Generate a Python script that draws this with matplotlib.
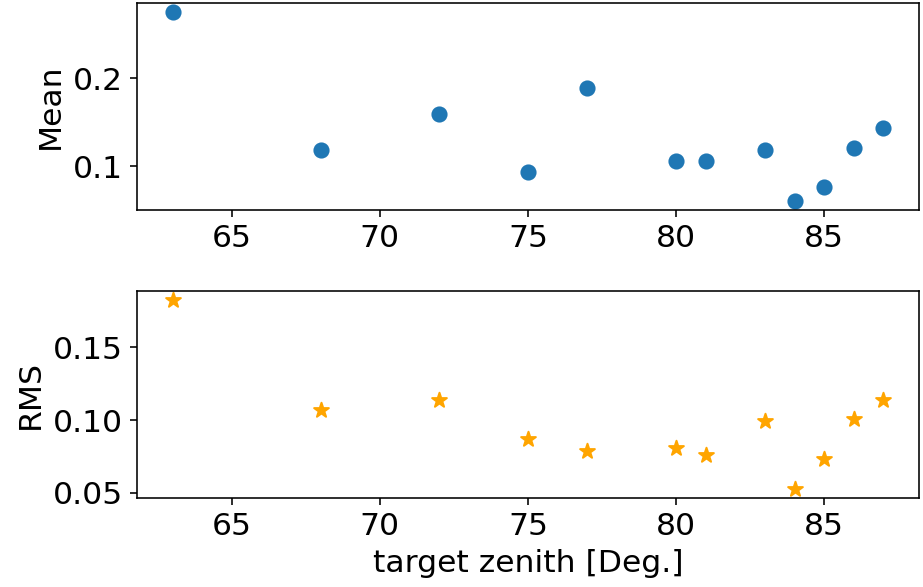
import matplotlib
matplotlib.use('Agg')
import matplotlib.pyplot as plt

zenith = [63, 68, 72, 75, 77, 80, 81, 83, 84, 85, 86, 87]
mean_vals = [0.275, 0.119, 0.160, 0.093, 0.189, 0.106, 0.106, 0.118, 0.061, 0.076, 0.121, 0.144]
rms_vals = [0.182, 0.107, 0.114, 0.087, 0.079, 0.081, 0.076, 0.099, 0.053, 0.073, 0.101, 0.114]

plt.rcParams['font.size'] = 15.7

fig = plt.figure(figsize=(923 / 144, 587 / 144), dpi=144)
ax1 = fig.add_axes([137 / 923, 1 - 210 / 587, 782 / 923, 207 / 587])
ax2 = fig.add_axes([137 / 923, 1 - 498 / 587, 782 / 923, 207 / 587])

ax1.scatter(zenith, mean_vals, s=50, color='tab:blue')
ax1.set_ylabel('Mean')

ax2.scatter(zenith, rms_vals, s=60, marker='*', color='orange')
ax2.set_ylabel('RMS')
ax2.set_xlabel('target zenith [Deg.]')

for ax in (ax1, ax2):
    ax.set_xticks([65, 70, 75, 80, 85])

ax1.set_yticks([0.1, 0.2])
ax2.set_yticks([0.05, 0.10, 0.15])

fig.savefig('out.png', dpi=144)
